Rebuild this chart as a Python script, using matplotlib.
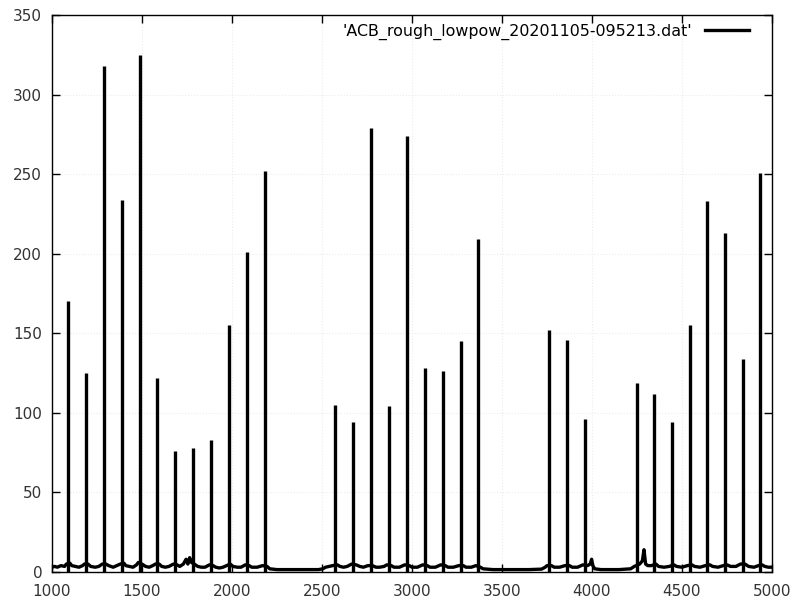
import matplotlib
matplotlib.use("Agg")
import matplotlib.pyplot as plt

# spikes: position and height
peak_x = [1090, 1190, 1290, 1390, 1490, 1585, 1685, 1785, 1885, 1985, 2085, 2185,
          2575, 2675, 2770, 2870, 2970, 3070, 3170, 3270, 3365,
          3760, 3860, 3960,
          4250, 4345, 4445, 4545, 4640, 4740, 4840, 4935]
peak_y = [170, 125, 318, 234, 325, 122, 76, 78, 83, 155, 201, 252,
          105, 94, 279, 104, 274, 128, 126, 145, 209,
          152, 146, 96,
          119, 112, 94, 155, 233, 213, 134, 251]

# noisy baseline between the spikes
base_x = [1000, 1015, 1030, 1050, 1070, 1080, 1100, 1110, 1130, 1150, 1170, 1180,
          1200, 1215, 1240, 1260, 1280, 1300, 1315, 1340, 1360, 1380, 1400, 1410,
          1430, 1450, 1470, 1480, 1500, 1520, 1540, 1560, 1575, 1595, 1610, 1630,
          1650, 1675, 1695, 1710, 1730, 1745, 1755, 1765, 1775, 1790, 1810, 1830,
          1850, 1875, 1895, 1910, 1930, 1950, 1970, 1990, 2005, 2030, 2050, 2075,
          2095, 2110, 2140, 2170, 2195, 2210,
          2250, 2300, 2400, 2480, 2505,
          2520, 2540, 2560, 2585, 2600, 2620, 2640, 2665, 2690, 2710, 2730, 2755,
          2780, 2800, 2820, 2845, 2860, 2885, 2900, 2930, 2960, 2985, 3000, 3030,
          3060, 3085, 3100, 3130, 3160, 3185, 3200, 3230, 3260, 3285, 3300, 3330,
          3355, 3380, 3395,
          3450, 3550, 3650, 3720, 3740,
          3750, 3775, 3790, 3820, 3850, 3875, 3890, 3920, 3950, 3975, 3990, 3998,
          4005, 4015,
          4050, 4100, 4150, 4215, 4235,
          4245, 4265, 4280, 4289, 4298, 4310, 4330, 4355, 4370, 4400, 4430, 4455,
          4470, 4500, 4530, 4555, 4570, 4600, 4630, 4655, 4670, 4700, 4730, 4750,
          4770, 4800, 4825, 4850, 4870, 4900, 4925, 4945, 4960, 4980, 5000]
base_y = [3, 3.5, 3, 4, 3.5, 5, 5.5, 4, 3.5, 3, 4, 5,
          5, 3.5, 3, 3.5, 5, 5, 4, 3, 4, 5, 5.5, 4,
          3.5, 3, 4.5, 6, 5, 3.5, 3, 4, 5, 5, 3.5, 3,
          3.5, 5, 4.5, 3.5, 5, 8, 5, 9, 6, 5, 3.5, 3,
          3, 4.5, 4, 3, 2.5, 3, 4, 5, 3.5, 3, 3, 4.5,
          4, 3, 3, 4, 3.5, 2,
          1.5, 1.5, 1.5, 1.5, 2,
          3, 3.5, 4, 4.5, 3.5, 3, 3.5, 5, 4.5, 3.5, 3, 4,
          4, 3, 3, 3.5, 4.5, 4, 3, 3, 4.5, 4, 3, 3,
          4.5, 4, 3, 3, 4.5, 4, 3, 3, 4, 4, 3, 3,
          4, 3, 2,
          1.5, 1.5, 1.5, 1.8, 3,
          4, 4, 3, 3, 4, 4, 3, 3, 4.5, 4, 5, 8,
          4, 2,
          1.5, 1.5, 1.5, 2, 3.5,
          4, 5, 7, 14, 5, 4, 4, 5, 3.5, 3, 3.5, 4.5,
          3.5, 3, 4, 4.5, 3.5, 3, 4, 4.5, 3.5, 3, 4, 4.5,
          3.5, 3.5, 5, 5, 3.5, 3, 4, 4.5, 3.5, 3, 3]

label = "'ACB_rough_lowpow_20201105-095213.dat'"

fig = plt.figure(figsize=(7.97, 5.98), dpi=100)
ax = fig.add_axes([0.0652, 0.0435, 0.9034, 0.9314])

line, = ax.plot(base_x, base_y, color="black", lw=2.4, label=label)
ax.vlines(peak_x, 0, peak_y, color="black", lw=2.4)

ax.set_xlim(1000, 5000)
ax.set_ylim(0, 350)
ax.set_xticks(range(1000, 5001, 500))
ax.set_yticks(range(0, 351, 50))

ax.tick_params(direction="in", top=True, right=True, length=6, width=1,
               labelsize=11, labelcolor="#333333")
ax.tick_params(axis="y", pad=7)
ax.tick_params(axis="x", pad=9)
ax.grid(True, color="#ececec", linestyle=":", linewidth=0.8)
ax.set_axisbelow(True)
for s in ax.spines.values():
    s.set_linewidth(1)

ax.legend(handles=[line], loc="upper right", frameon=False, markerfirst=False,
          handlelength=2.8, fontsize=11.4, bbox_to_anchor=(0.988, 1.01))

fig.savefig("out.png", dpi=100)
